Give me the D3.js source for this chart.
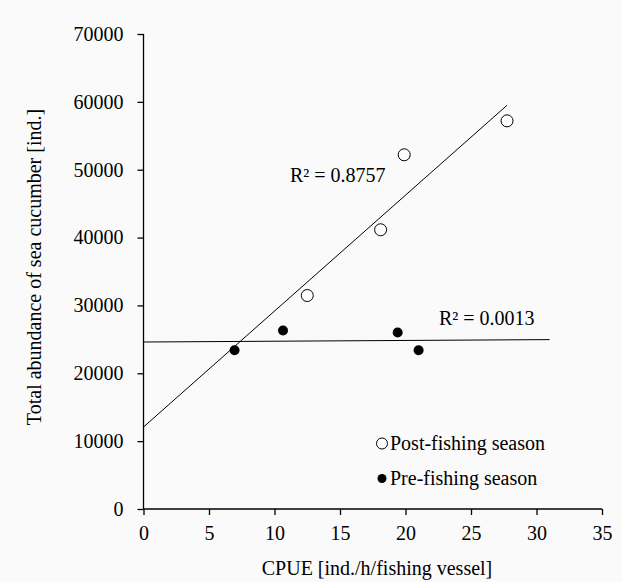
<!DOCTYPE html>
<html>
<head>
<meta charset="utf-8">
<script src="https://cdn.jsdelivr.net/npm/d3@7"></script>
<style>
body { margin: 0; background: #fafafa; }
svg { display: block; }
</style>
</head>
<body>
<svg width="622" height="582"></svg>
<script>
var svg = d3.select('svg')

// Post-fishing season (open circles)
var postX = [12.5, 18.1, 19.9, 27.75]
var postY = [31460, 41150, 52200, 57200]
// Pre-fishing season (filled circles)
var preX = [6.95, 10.65, 19.4, 21.0]
var preY = [23400, 26300, 26000, 23400]

var xTicks = [0, 5, 10, 15, 20, 25, 30, 35]
var yTicks = [0, 10000, 20000, 30000, 40000, 50000, 60000, 70000]

// trendline extents (Excel style forecast)
var postFit = [0, 27.75]
var preFit = [0, 31]

var font = 'Liberation Serif'
var fs = 20

var x = d3.scaleLinear().domain([0, 35]).range([143.5, 602])
var y = d3.scaleLinear().domain([0, 70000]).range([509, 34])

// Axes
var gx = svg.append('g')
	.attr('transform', 'translate(0,' + y(0) + ')')
	.call(d3.axisBottom(x).tickValues(xTicks).tickSize(6).tickPadding(11).tickFormat(d3.format('d')))
var gy = svg.append('g')
	.attr('transform', 'translate(' + x(0) + ',0)')
	.call(d3.axisLeft(y).tickValues(yTicks).tickSize(6).tickPadding(14).tickFormat(d3.format('d')))

svg.selectAll('g').attr('font-family', font).attr('font-size', fs)
svg.selectAll('.domain').attr('stroke', '#000').attr('stroke-width', 1.3)
svg.selectAll('.tick line').attr('stroke', '#000').attr('stroke-width', 1.3)
svg.selectAll('.tick text').attr('fill', '#000')
gx.selectAll('.domain').attr('d', 'M' + x(0) + ',0H' + x(35))
gy.selectAll('.domain').attr('d', 'M0,' + y(0) + 'V' + y(70000))

// Linear regression
function fit(xs, ys) {
	var mx = d3.mean(xs), my = d3.mean(ys)
	var sxy = d3.sum(xs, function(v, i) { return (v - mx) * (ys[i] - my) })
	var sxx = d3.sum(xs, function(v) { return (v - mx) * (v - mx) })
	var b = sxy / sxx
	return { a: my - b * mx, b: b }
}

function trend(xs, ys, ext) {
	var f = fit(xs, ys)
	svg.append('line')
		.attr('x1', x(ext[0])).attr('y1', y(f.a + f.b * ext[0]))
		.attr('x2', x(ext[1])).attr('y2', y(f.a + f.b * ext[1]))
		.attr('stroke', '#000')
		.attr('stroke-width', 1)
}
trend(postX, postY, postFit)
trend(preX, preY, preFit)

// Points
svg.selectAll('circle.post')
	.data(postX)
	.enter()
	.append('circle')
	.attr('class', 'post')
	.attr('cx', function(d) { return x(d) })
	.attr('cy', function(d, i) { return y(postY[i]) })
	.attr('r', 6)
	.attr('fill', '#fff')
	.attr('stroke', '#000')
	.attr('stroke-width', 1)

svg.selectAll('circle.pre')
	.data(preX)
	.enter()
	.append('circle')
	.attr('class', 'pre')
	.attr('cx', function(d) { return x(d) })
	.attr('cy', function(d, i) { return y(preY[i]) })
	.attr('r', 5)
	.attr('fill', '#000')

function label(tx, ty, s, anchor) {
	return svg.append('text')
		.attr('x', tx).attr('y', ty)
		.attr('text-anchor', anchor || 'start')
		.attr('font-family', font).attr('font-size', fs)
		.text(s)
}

// R² labels
label(290, 182, 'R² = 0.8757')
label(439, 325, 'R² = 0.0013')

// Legend
svg.append('circle')
	.attr('cx', 382).attr('cy', 443.5).attr('r', 5.5)
	.attr('fill', '#fff').attr('stroke', '#000').attr('stroke-width', 1)
label(390, 450, 'Post-fishing season')
svg.append('circle')
	.attr('cx', 382).attr('cy', 478.5).attr('r', 4.5)
	.attr('fill', '#000')
label(390, 485, 'Pre-fishing season')

// Axis titles
label(377, 575, 'CPUE [ind./h/fishing vessel]', 'middle')
svg.append('text')
	.attr('transform', 'translate(41,267) rotate(-90)')
	.attr('text-anchor', 'middle')
	.attr('font-family', font).attr('font-size', fs)
	.text('Total abundance of sea cucumber [ind.]')
</script>
</body>
</html>
